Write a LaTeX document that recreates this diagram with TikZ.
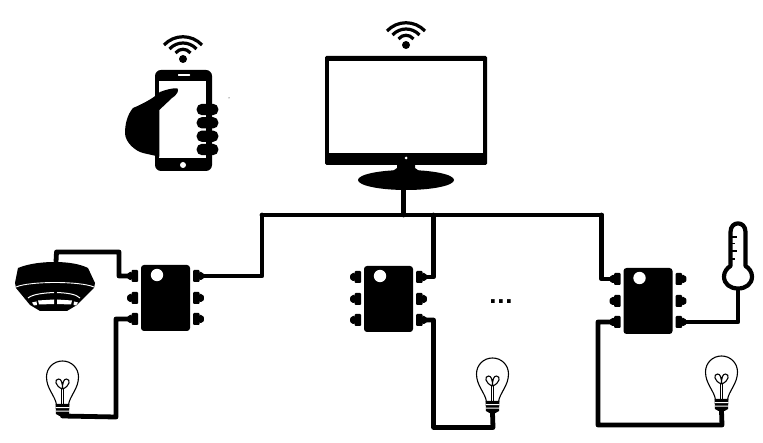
\documentclass[tikz,border=0pt]{standalone}
\usepackage{fontspec}
\usetikzlibrary{shapes.geometric}
\setmainfont{Liberation Sans}
\tikzset{
  wire/.style={line width=4.8pt,line cap=round,line join=round,black},
  chipbody/.style={fill=black,rounded corners=3pt,minimum width=49pt,minimum height=66pt,inner sep=0pt,outer sep=0pt},
  glass/.style={line width=1.1pt,black,fill=white,line join=round},
  fila/.style={line width=1.1pt,black,line join=round},
  chipicon/.pic={
    \node[chipbody] (-body) at (0,0) {};
    \fill[white] (-8.5,-23) circle[radius=6.2pt];
    \foreach \yy in {-22,0,21}{
      \fill[black,rounded corners=1pt] (-34,\yy-6) rectangle (-27.5,\yy+6);
      \fill[black,rounded corners=1.5pt] (-33,\yy-4) -- (-37,\yy-4) -- (-39,\yy) -- (-37,\yy+4) -- (-33,\yy+4) -- cycle;
      \fill[black,rounded corners=1pt] (27.5,\yy-6) rectangle (34,\yy+6);
      \fill[black,rounded corners=1.5pt] (33,\yy-4) -- (37,\yy-4) -- (39,\yy) -- (37,\yy+4) -- (33,\yy+4) -- cycle;
    }
    \coordinate (-l1) at (-36,-22);
    \coordinate (-l3) at (-36,21);
    \coordinate (-r1) at (36,-22);
    \coordinate (-r3) at (36,21);
  },
  lampicon/.pic={
    \draw[glass] (-6,-11) .. controls (-7,-20) and (-16,-27) .. (-16,-39)
      .. controls (-16,-48) and (-9,-55) .. (0,-55)
      .. controls (9,-55) and (16,-48) .. (16,-39)
      .. controls (16,-27) and (7,-20) .. (6,-11) -- cycle;
    \draw[fila] (-1,-11) -- (-1,-27) (1,-11) -- (1,-27);
    \draw[fila] (0,-27) .. controls (-8,-30) and (-8,-37) .. (-4,-37) .. controls (-1,-37) and (0,-33) .. (0,-27)
      .. controls (8,-30) and (8,-37) .. (4,-37) .. controls (1,-37) and (0,-33) .. (0,-27);
    \fill[black] (-7,-12) -- (7,-12) -- (6.5,-2) -- (3,0) -- (-3,0) -- (-6.5,-2) -- cycle;
    \fill[white] (-7,-8.8) rectangle (7,-7.8) (-7,-5.3) rectangle (7,-4.4);
    \coordinate (-base) at (0,0);
  },
  wifiicon/.pic={
    \fill[black] (0,0) circle[radius=4pt];
    \foreach \rr/\hw/\sg in {9/7.5/4,16/13.5/7,23/19/10}{
      \draw[black,line width=3.2pt] (-\hw,-\rr+\sg-1) .. controls (-\hw*0.45,-\rr-2) and (\hw*0.45,-\rr-2) .. (\hw,-\rr+\sg-1);
    }
  }
}
\begin{document}
\begin{tikzpicture}[x=1pt,y=-1pt]
\useasboundingbox (0,0) rectangle (763,443);
\fill[white] (0,0) rectangle (763,443);

% phone with hand
\node[fill=black,rounded corners=6pt,minimum width=57pt,minimum height=101pt,inner sep=0pt] (phone) at (183.5,120.5) {};
\fill[white] (159,81) rectangle (206,158);
\fill[white,rounded corners=0.5pt] (178,74.2) rectangle (190,75.8);
\fill[white] (183,165) circle[radius=3pt];
\fill[black,line join=round] (177.3,88.3) .. controls (172,88) and (165,90) .. (160,92)
  .. controls (155,97) and (145,103) .. (133,108)
  .. controls (127,115) and (125,125) .. (125,133)
  .. controls (125,142) and (135,151) .. (143,153)
  -- (159.3,156.7) -- (159.3,110) -- (172,98)
  .. controls (178,94) and (179,90) .. (177.3,88.3) -- cycle;
\foreach \yy in {109.5,122.8,136.2,149.5}{
  \fill[black,rounded corners=5pt] (196.7,\yy-5.6) rectangle (218.3,\yy+5.6);
}
\fill[black] (229,98) circle[radius=0.5pt];
\pic (wifiA) at (183,59) {wifiicon};

% monitor
\node[fill=black,rounded corners=1.5pt,minimum width=162pt,minimum height=109pt,inner sep=0pt,outer sep=0pt] (monitor) at (406,110.5) {};
\fill[white] (329,61) rectangle (483,153);
\fill[white] (406,158) circle[radius=1.5pt];
\fill[black] (397,164) -- (415,164) -- (415,168) -- (422,173) -- (390,173) -- (397,168) -- cycle;
\node[ellipse,fill=black,minimum width=96pt,minimum height=20pt,inner sep=0pt,outer sep=0pt] (stand) at (406,180) {};
\pic (wifiB) at (406,45) {wifiicon};

% chips
\pic (c1) at (165.5,298) {chipicon};
\pic (c2) at (388.5,299) {chipicon};
\pic (c3) at (648,301) {chipicon};

% bulbs
\pic (b1) at (62.5,416) {lampicon};
\pic (b2) at (492.5,413) {lampicon};
\pic (b3) at (721.5,411) {lampicon};

% smoke detector
\fill[black,line join=round] (18,268) .. controls (30,263) and (45,262) .. (55,262)
  .. controls (68,262) and (80,264) .. (88,268)
  -- (95,283) -- (94,288) -- (77,305) -- (67,311) -- (40,311) -- (30,305) -- (16,288) -- (15,283) -- cycle;
\node[inner sep=0pt,minimum size=1pt] (detector) at (56,262) {};
\draw[white,line width=0.9pt] (16,287) .. controls (30,281) and (80,281) .. (94,287);
\draw[white,line width=1pt] (28,298) .. controls (33,294) and (44,293) .. (54,292.5) (57,292.5) .. controls (67,293) and (76,294) .. (80,298);
\fill[white] (38,300.5) -- (54,299.5) -- (54,304) -- (39,304.5) -- cycle
  (57,299.5) -- (72,300.5) -- (71,304.5) -- (57,304) -- cycle
  (32,302.5) -- (36.5,301.5) -- (37,305) -- (34,305.5) -- cycle
  (74,301.5) -- (78,302.5) -- (76,305.5) -- (73.5,305) -- cycle;

% thermometer
\draw[black,line width=4.2pt,fill=white,line join=round] (730.5,232)
  .. controls (730.5,220.5) and (745.5,220.5) .. (745.5,232)
  -- (745.5,266) .. controls (749,268) and (752,272) .. (752,276.5)
  .. controls (752,284) and (746,288.5) .. (738,288.5)
  .. controls (730,288.5) and (724,284) .. (724,276.5)
  .. controls (724,272) and (727,268) .. (730.5,266) -- cycle;
\draw[black,line width=1.2pt] (732,237) -- (737,237) (732,243.5) -- (735,243.5) (732,251) -- (737,251) (732,259) -- (735,259);
\node[inner sep=0pt,minimum size=1pt] (thermo) at (738,290) {};

% dots
\node[inner sep=0pt,anchor=base] (dots) at (501,303.5) {\fontsize{26pt}{26pt}\selectfont\bfseries .\kern0.8pt.\kern0.8pt.};

% junction coordinates
\coordinate (busL) at (262,215);
\coordinate (busM) at (433.5,215);
\coordinate (busR) at (601.5,215);
\coordinate (monOut) at (403.7,188);
\coordinate (d1) at (56.5,252);
\coordinate (d2) at (119,252);
\coordinate (w1) at (116,319);
\coordinate (w1b) at (116,417);
\coordinate (w2) at (433.5,320);
\coordinate (w2b) at (433.5,427.5);
\coordinate (w2c) at (493,427.5);
\coordinate (w3) at (598,322);
\coordinate (w3b) at (598,425);
\coordinate (w3c) at (722,425);
\coordinate (w4) at (738,322);

% wires
\draw[wire] (busL) -- (busR);
\draw[wire] (monOut) -- (monOut |- busL);
\draw[wire] (busL) -- (busL |- c1-r1) -- (c1-r1);
\draw[wire] (busM) -- (busM |- c2-r1) -- (c2-r1);
\draw[wire] (busR) -- (busR |- c3-l1) -- (c3-l1);
\draw[wire] (detector) -- (d1) -- (d2) -- (d2 |- c1-l1) -- (c1-l1);
\draw[wire] (c1-l3) -- (w1) -- (w1b) -- (b1-base);
\draw[wire] (c2-r3) -- (w2) -- (w2b) -- (w2c) -- (b2-base);
\draw[wire] (c3-l3) -- (w3) -- (w3b) -- (w3c) -- (b3-base);
\draw[wire] (c3-r3) -- (w4) -- (thermo);
\end{tikzpicture}
\end{document}
